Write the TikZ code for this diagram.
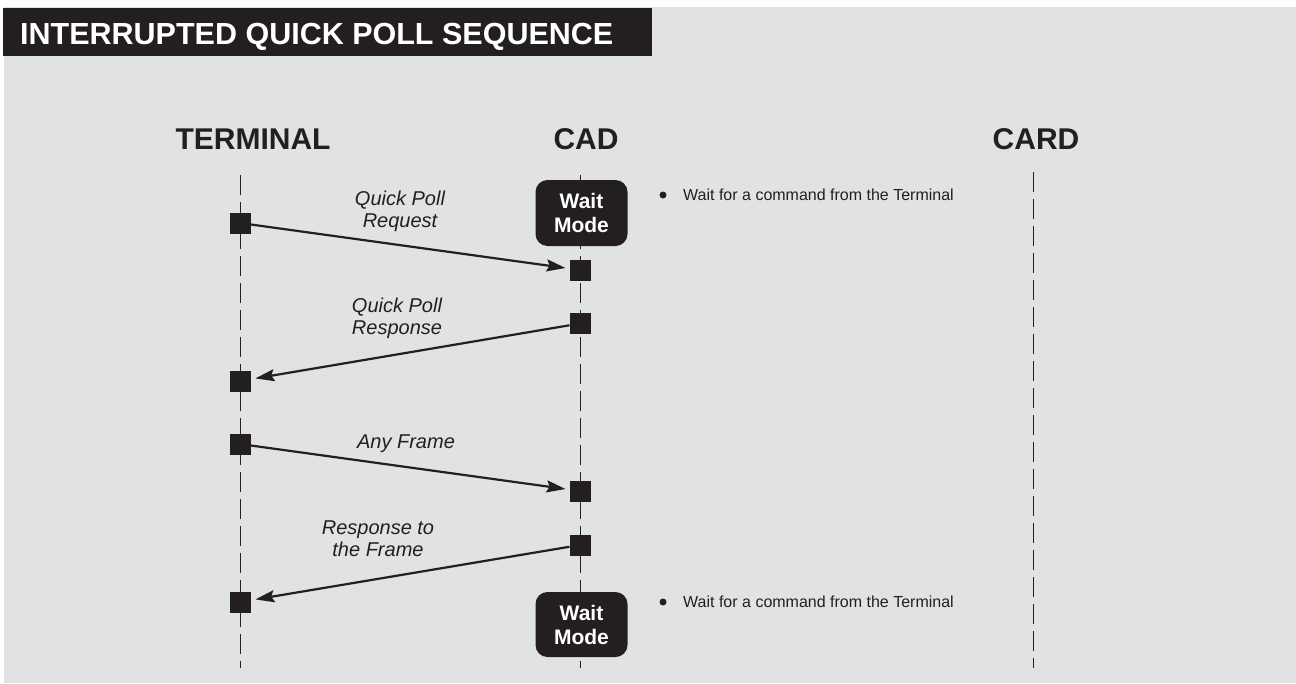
\documentclass[tikz,border=0pt]{standalone}
\usepackage{fontspec}
\setmainfont{Liberation Sans}
\usetikzlibrary{arrows.meta}
\definecolor{panel}{HTML}{E1E2E4}
\definecolor{ink}{HTML}{231F20}
\begin{document}
\begin{tikzpicture}[x=1pt,y=-1pt,
  lifeline/.style={draw=ink, line width=1pt, dash pattern=on 20pt off 7pt},
  actor/.style={font=\fontsize{30}{32}\selectfont\bfseries, text=ink, anchor=base, inner sep=0pt},
  event/.style={fill=ink, minimum size=21pt, inner sep=0pt, outer sep=0pt},
  msg/.style={draw=ink, line width=2.2pt, -{Stealth[length=19pt,width=12pt,inset=3pt]}, shorten >=4pt},
  msglabel/.style={font=\fontsize{20}{22}\selectfont\itshape, text=ink, align=center, inner sep=0pt},
  waitbox/.style={fill=ink, rounded corners=12pt, minimum width=92pt, minimum height=66pt, text=white, font=\fontsize{21}{24}\selectfont\bfseries, align=center, inner sep=0pt},
  note/.style={font=\fontsize{16}{18}\selectfont, text=ink, anchor=base west, inner sep=0pt},
  bullet/.style={circle, fill=ink, minimum size=7pt, inner sep=0pt}
]
% canvas and panel
\useasboundingbox (0,0) rectangle (1296,683);
\fill[white] (0,0) rectangle (1296,683);
\fill[panel] (4,7) rectangle (1296,683);

% title banner
\fill[ink] (3,8) rectangle (652,56);
\node[font=\fontsize{30.5}{32}\selectfont\bfseries, text=white, anchor=base west, inner sep=0pt] (title) at (20,44) {INTERRUPTED QUICK POLL SEQUENCE};

% participants
\node[actor] (terminal) at (253,149) {TERMINAL};
\node[actor] (cad) at (586,149) {CAD};
\node[actor] (card) at (1036,149) {CARD};

% lifelines
\coordinate (tTop) at (240,175);
\coordinate (tBot) at (240,668);
\coordinate (cTop) at (580,175);
\coordinate (cBot) at (580,668);
\coordinate (kTop) at (1033,172);
\coordinate (kBot) at (1033,668);
\draw[lifeline] (tTop) -- (tBot);
\draw[lifeline] (cTop) -- (cBot);
\draw[lifeline] (kTop) -- (kBot);

% CAD states
\node[waitbox] (wait1) at (581.5,213) {Wait\\Mode};
\node[waitbox, minimum height=65pt] (wait2) at (581.5,624.5) {Wait\\Mode};

% notes
\node[bullet] (b1) at (663,195) {};
\node[note] (n1) at (683,200) {Wait for a command from the Terminal};
\node[bullet] (b2) at (663,602) {};
\node[note] (n2) at (683,607) {Wait for a command from the Terminal};

% events
\node[event] (t1) at (240,223) {};
\node[event] (c1) at (580,270) {};
\node[event] (c2) at (580,323.5) {};
\node[event] (t2) at (240,381) {};
\node[event] (t3) at (240,444) {};
\node[event] (c3) at (580,491) {};
\node[event] (c4) at (580,545) {};
\node[event] (t4) at (240,602) {};

% messages
\draw[msg] (t1) -- (c1);
\draw[msg, shorten >=5pt] (c2) -- (t2);
\draw[msg] (t3) -- (c3);
\draw[msg, shorten >=5pt] (c4) -- (t4);

% message labels
\node[msglabel] (l1) at (400,211) {Quick Poll\\Request};
\node[msglabel] (l2) at (397,318) {Quick Poll\\Response};
\node[msglabel, anchor=base] (l3) at (406,448) {Any Frame};
\node[msglabel] (l4) at (378,539) {Response to\\the Frame};
\end{tikzpicture}
\end{document}
